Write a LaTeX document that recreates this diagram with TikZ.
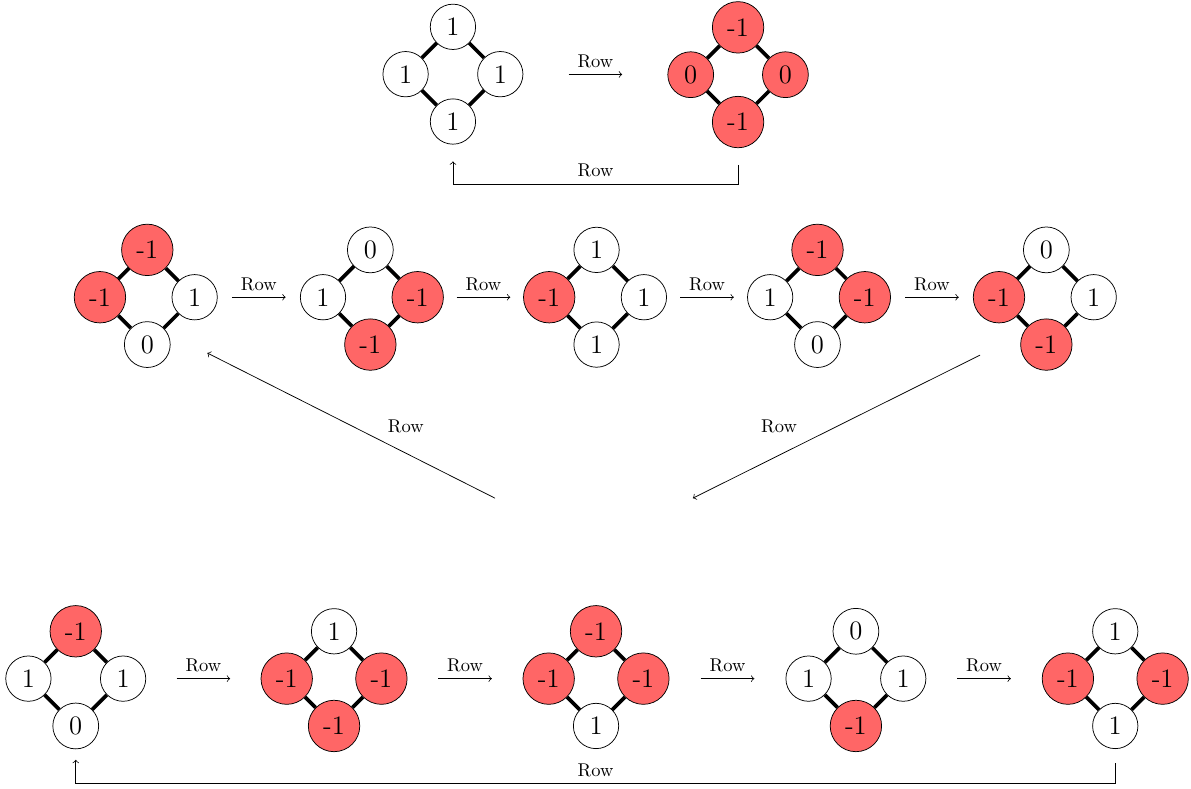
\documentclass[tikz,border=0pt]{standalone}
\usetikzlibrary{calc}

\colorlet{flip}{red!60}
\tikzset{
	site/.style={circle, draw, inner sep=4.5pt, font=\Large},
	bond/.style={line width=2pt},
}

\begin{document}
\begin{tikzpicture}
		\useasboundingbox (0,0) rectangle (22.64,-14.98);
		% the twelve square graphs: name/x/y/top/left/right/bottom and their fills
		\foreach \n/\x/\y/\t/\l/\r/\b/\ft/\fl/\fr/\fb in {
			u1/8.61/-1.41/1/1/1/1/white/white/white/white,
			u2/14.03/-1.42/-1/0/0/-1/flip/flip/flip/flip,
			m1/2.80/-5.65/-1/-1/1/0/flip/flip/white/white,
			m2/7.04/-5.65/0/1/-1/-1/white/white/flip/flip,
			m3/11.34/-5.65/1/-1/1/1/white/flip/white/white,
			m4/15.54/-5.65/-1/1/-1/0/flip/white/flip/white,
			m5/19.89/-5.65/0/-1/1/-1/white/flip/white/flip,
			d1/1.44/-12.9/-1/1/1/0/flip/white/white/white,
			d2/6.35/-12.9/1/-1/-1/-1/white/flip/flip/flip,
			d3/11.33/-12.9/-1/-1/-1/1/flip/flip/flip/white,
			d4/16.27/-12.9/0/1/1/-1/white/white/white/flip,
			d5/21.2/-12.9/1/-1/-1/1/white/flip/flip/white}{
			\node[site, fill=\ft] (\n t) at (\x,\y+0.9) {\t};
			\node[site, fill=\fl] (\n l) at (\x-0.9,\y) {\l};
			\node[site, fill=\fr] (\n r) at (\x+0.9,\y) {\r};
			\node[site, fill=\fb] (\n b) at (\x,\y-0.9) {\b};
			\draw[bond] (\n t) -- (\n l);
			\draw[bond] (\n l) -- (\n b);
			\draw[bond] (\n b) -- (\n r);
			\draw[bond] (\n r) -- (\n t);
		}
		% short steps
		\foreach \a/\b in {u1r/u2l, m1r/m2l, m2r/m3l, m3r/m4l, m4r/m5l,
			d1r/d2l, d2r/d3l, d3r/d4l, d4r/d5l}{
			\coordinate (mid) at ($(\a.east)!0.5!(\b.west)$);
			\draw[->] ([xshift=-0.51cm]mid) -- node[above] {Row} ([xshift=0.51cm]mid);
		}
		% loops back
		\draw[->] ([yshift=-0.32cm]u2b.south) -- ++(0,-0.36) -| node[pos=0.25, above] {Row} ([yshift=-0.32cm]u1b.south);
		\draw[->] ([yshift=-0.27cm]d5b.south) -- ++(0,-0.38) -| node[pos=0.25, above] {Row} ([yshift=-0.2cm]d1b.south);
		\coordinate (m5out) at (18.63,-6.75);
		\coordinate (gapR) at (13.17,-9.47);
		\coordinate (gapL) at (9.41,-9.47);
		\coordinate (m1in) at (3.94,-6.71);
		\draw[->] (m5out) -- node[pos=0.7, above=0.3cm] {Row} (gapR);
		\draw[->] (gapL) -- node[pos=0.31, above=0.27cm] {Row} (m1in);
	\end{tikzpicture}
\end{document}
